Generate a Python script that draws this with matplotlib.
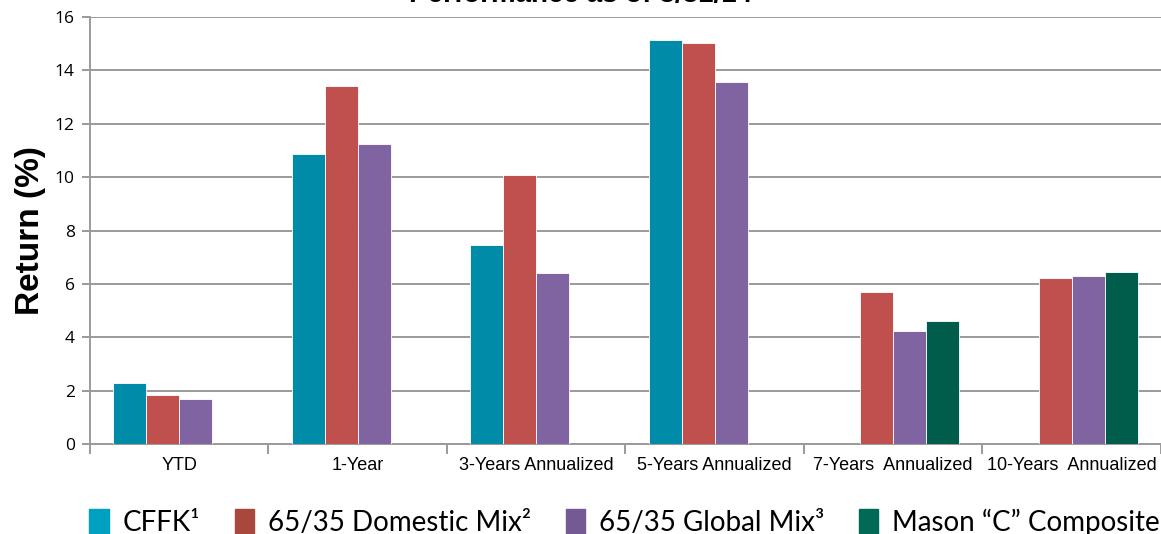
import matplotlib.pyplot as plt
import numpy as np
from matplotlib.patches import Patch

categories = ['YTD', '1-Year', '3-Years Annualized', '5-Years Annualized',
              '7-Years  Annualized', '10-Years  Annualized']
series = ['CFFK\u00b9', '65/35 Domestic Mix\u00b2', '65/35 Global Mix\u00b3',
          'Mason \u201cC\u201d Composite']
cffk = [2.28, 10.86, 7.45, 15.13, np.nan, np.nan]
domestic = [1.84, 13.41, 10.07, 15.02, 5.69, 6.22]
global_mix = [1.69, 11.24, 6.40, 13.56, 4.23, 6.29]
mason = [np.nan, np.nan, np.nan, np.nan, 4.61, 6.44]
colors = ['#008CA8', '#C0504D', '#8064A2', '#005C4B']
legend_colors = ['#00A0C0', '#A9473F', '#735A94', '#006A57']

fig = plt.figure(figsize=(11.61, 5.34), dpi=100)
ax = fig.add_axes([0.0775, 0.1685, 0.9225, 0.7995])

x = np.arange(len(categories))
w = 0.185
for i, vals in enumerate([cffk, domestic, global_mix, mason]):
    ax.bar(x + (i - 1.5) * w, vals, w, color=colors[i], edgecolor='white',
           linewidth=0.6, zorder=3)

ax.set_xlim(-0.5, len(categories) - 0.5)
ax.set_ylim(0, 16)
ax.set_yticks(range(0, 17, 2))
ax.yaxis.grid(True, color='#9A9A9A', linewidth=1.4, zorder=0)
ax.set_axisbelow(True)
for s in ['top', 'right']:
    ax.spines[s].set_visible(False)
for s in ['left', 'bottom']:
    ax.spines[s].set_color('#9A9A9A')
    ax.spines[s].set_linewidth(1.4)

ax.set_xticks(x)
ax.set_xticklabels(categories, fontsize=13, family='Liberation Sans')
ax.set_xticks(np.arange(-0.5, len(categories), 1), minor=True)
ax.tick_params(axis='x', which='major', length=0, pad=9)
ax.tick_params(axis='x', which='minor', length=7, color='#9A9A9A', width=1.4)
ax.tick_params(axis='y', length=6, color='#9A9A9A', width=1.4, labelsize=12.5, pad=5)
for lbl in ax.get_yticklabels():
    lbl.set_family('Open Sans')

ax.set_ylabel('Return (%)', fontsize=24, fontweight='bold', family='Liberation Sans',
              labelpad=6)

fig.text(0.50, 0.985, 'Performance as of 3/31/14', fontsize=20, fontweight='bold',
         family='Liberation Sans', ha='center', va='bottom')

handles = [Patch(color=c) for c in legend_colors]
fig.legend(handles, series, loc='lower center', bbox_to_anchor=(0.538, -0.05), ncol=4,
           frameon=False, prop={'family': 'Lato', 'size': 20}, handlelength=0.7,
           handleheight=1.0, handletextpad=0.5, columnspacing=1.25)

fig.savefig('out.png', dpi=100)
